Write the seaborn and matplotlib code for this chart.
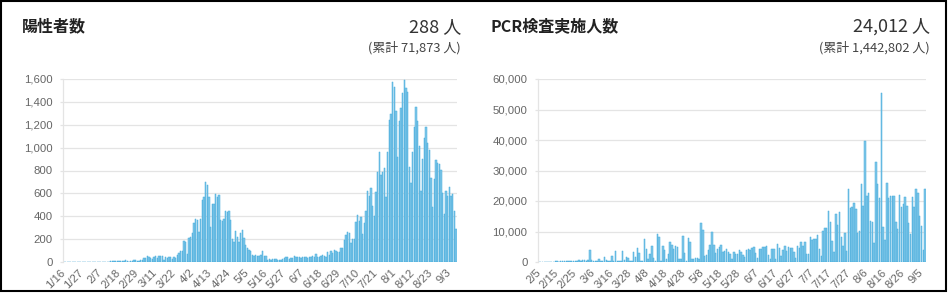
import matplotlib
matplotlib.use("Agg")
import matplotlib.pyplot as plt
import seaborn as sns
import pandas as pd
from matplotlib.ticker import FuncFormatter
from matplotlib.patches import Rectangle

# ---------------- data ----------------
pos_start, pos_end = "2020-01-16", "2020-09-07"
pos_jan = [1, 0, 0, 0, 0, 0, 0, 0, 1, 1, 1, 0, 3, 1, 3, 2]
pos_feb = [1, 0, 0, 0, 1, 0, 1, 0, 0, 2, 1, 0, 5, 9, 8, 6, 5, 5, 9, 11, 7, 14, 13, 4, 7, 10, 20, 17, 9]
pos_mar = [12, 15, 14, 33, 35, 55, 47, 33, 25, 48, 50, 35, 50, 55, 52, 20, 40, 35, 40, 45, 30, 40, 35,
           60, 75, 96, 96, 183, 178, 70, 212]
pos_apr = [221, 250, 338, 373, 367, 265, 376, 542, 571, 702, 673, 571, 309, 504, 504,
           594, 571, 586, 367, 361, 373, 446, 440, 446, 367, 198, 178, 274, 221, 178]
pos_may = [256, 280, 207, 149, 120, 105, 93, 64, 50, 64, 50, 50, 64, 93, 50, 50, 20, 30, 20, 25,
           30, 25, 20, 15, 20, 30, 35, 45, 40, 30, 35]
pos_jun = [35, 50, 40, 45, 45, 35, 45, 40, 45, 35, 40, 40, 55, 45, 70, 40, 40, 55, 65, 55,
           40, 85, 60, 95, 80, 105, 100, 90, 85, 120]
pos_jul = [120, 195, 240, 260, 250, 170, 200, 200, 346, 413, 355, 393, 247, 340, 442, 617, 579,
           650, 492, 402, 615, 790, 965, 760, 790, 825, 571, 965, 1241, 1291, 1576]
pos_aug = [1533, 1320, 921, 1233, 1343, 1474, 1591, 1524, 1489, 833, 688, 965, 1177, 1352, 1233,
           1014, 621, 900, 1081, 1183, 1037, 979, 737, 484, 722, 892, 862, 855, 806, 600, 420]
pos_sep = [620, 580, 653, 580, 594, 446, 288]
positives = pos_jan + pos_feb + pos_mar + pos_apr + pos_may + pos_jun + pos_jul + pos_aug + pos_sep

pcr_start, pcr_end = "2020-02-05", "2020-09-07"
pcr_missing = ["2020-03-21", "2020-03-22", "2020-04-04"]
pcr_values = [
    50, 80, 60, 90, 110, 70, 100, 150, 120, 180,
    200, 160, 250, 300, 230, 280, 350, 300, 260, 400,
    420, 380, 500, 450, 600, 520, 480, 700, 3800, 600,
    400, 200, 300, 1100, 400, 200, 1800, 700, 200, 300,
    2000, 300, 3500, 200, 300, 200, 3700, 700, 1600, 1200,
    300, 200, 3300, 1800, 4600, 3100, 300, 200, 7600, 4400,
    1100, 2700, 5100, 1400, 300, 9200, 8100, 400, 5100, 4000,
    1100, 2700, 6700, 5600, 4300, 5100, 5000, 1100, 1000, 8500,
    3100, 400, 8000, 6700, 900, 1000, 1200, 1400, 1000, 12900,
    10500, 2100, 2200, 3800, 5700, 9900, 5700, 2900, 4300, 4800,
    5700, 3200, 3500, 4300, 3200, 2700, 1100, 3300, 2700, 2700,
    3800, 3300, 2400, 1600, 4000, 4400, 3800, 4600, 4800, 2900,
    1300, 4300, 4400, 4900, 4800, 5300, 2400, 1000, 4300, 4400,
    1100, 6000, 4600, 2100, 3800, 5100, 3500, 4800, 4500, 4600,
    3200, 1200, 5300, 4600, 6400, 5300, 6400, 2700, 2500, 8200,
    7100, 7500, 7500, 8900, 4400, 1900, 10300, 11000, 11100, 16600,
    13000, 7000, 3200, 15800, 12000, 16300, 8100, 5400, 9400, 3600,
    23900, 17800, 18100, 19500, 17300, 9400, 10300, 25600, 18500, 39700,
    21800, 22500, 13400, 13000, 6100, 32900, 25600, 20900, 55300, 11600,
    7200, 25800, 21100, 21800, 21800, 21800, 13200, 10700, 21900, 18100,
    19000, 21400, 18400, 12700, 9200, 21400, 17900, 23900, 22700, 15200,
    11800, 3900, 24012,
]

pos_title, pos_latest, pos_total = "陽性者数", "288 人", "(累計 71,873 人)"
pcr_title, pcr_latest, pcr_total = "PCR検査実施人数", "24,012 人", "(累計 1,442,802 人)"
pos_yticks = [0, 200, 400, 600, 800, 1000, 1200, 1400, 1600]
pcr_yticks = [0, 10000, 20000, 30000, 40000, 50000, 60000]
pos_tick_step = 11
pcr_tick_step = 10


def md(d):
    return f"{d.month}/{d.day}"


pos_dates = [md(d) for d in pd.date_range(pos_start, pos_end)]
pcr_dates = [md(d) for d in pd.date_range(pcr_start, pcr_end).drop(pd.to_datetime(pcr_missing))]
assert len(pos_dates) == len(positives), (len(pos_dates), len(positives))
assert len(pcr_dates) == len(pcr_values), (len(pcr_dates), len(pcr_values))

# ---------------- style ----------------
sns.set_theme(style="white")
plt.rcParams['font.family'] = ['Noto Sans CJK JP', 'DejaVu Sans']

BAR = '#80c8e8'
EDGE = '#45abdc'
GRID = '#e4e4e4'
TICK = '#666666'

W, H = 950, 293
fig = plt.figure(figsize=(W / 100, H / 100), dpi=100)
ax1 = fig.add_axes([63 / W, 31 / H, 394 / W, 183 / H])
ax2 = fig.add_axes([538 / W, 31 / H, 388 / W, 183 / H])


def draw(ax, dates, values, yticks, step):
    df = pd.DataFrame({'date': dates, 'value': values})
    sns.barplot(data=df, x='date', y='value', order=dates, ax=ax, color=BAR,
                saturation=1, width=0.8, edgecolor=EDGE, linewidth=0.35)
    ax.set_xlim(-0.5, len(dates) - 0.5)
    ax.set_ylim(0, yticks[-1])
    ax.set_yticks(yticks)
    ax.yaxis.set_major_formatter(FuncFormatter(lambda v, p: f"{int(v):,}"))
    idx = list(range(0, len(dates), step))
    ax.set_xticks(idx)
    ax.set_xticklabels([dates[i] for i in idx], rotation=45, ha='right',
                       va='center', rotation_mode='anchor')
    ax.grid(axis='y', color=GRID, linewidth=0.9)
    ax.grid(axis='x', visible=False)
    ax.set_axisbelow(True)
    for s in ['top', 'right', 'bottom']:
        ax.spines[s].set_visible(False)
    ax.spines['left'].set_color(GRID)
    ax.spines['left'].set_linewidth(0.9)
    ax.tick_params(axis='x', length=0, pad=6.5, labelsize=8.2, labelcolor=TICK)
    ax.tick_params(axis='y', left=True, length=2.5, color=GRID, width=0.9, pad=5,
                   labelsize=8.2, labelcolor=TICK)
    for lab in ax.get_xticklabels() + ax.get_yticklabels():
        lab.set_fontfamily('Liberation Sans')
    ax.set_xlabel('')
    ax.set_ylabel('')


draw(ax1, pos_dates, positives, pos_yticks, pos_tick_step)
draw(ax2, pcr_dates, pcr_values, pcr_yticks, pcr_tick_step)

# headers
for x_left, x_right, title, latest, total in [
        (22, 461, pos_title, pos_latest, pos_total),
        (490, 930, pcr_title, pcr_latest, pcr_total)]:
    fig.text(x_left / W, 1 - 26 / H, title, fontsize=11.5, fontweight='bold',
             ha='left', va='center', color='#222222')
    fig.text(x_right / W, 1 - 27 / H, latest, fontsize=13, ha='right',
             va='center', color='#333333')
    fig.text(x_right / W, 1 - 48 / H, total, fontsize=9.3, ha='right',
             va='center', color='#444444')

# outer frame
fig.patches.append(Rectangle((1 / W, 2 / H), 945 / W, 290 / H, transform=fig.transFigure,
                             fill=False, edgecolor='black', linewidth=1.5))

fig.savefig("out.png", dpi=100)
